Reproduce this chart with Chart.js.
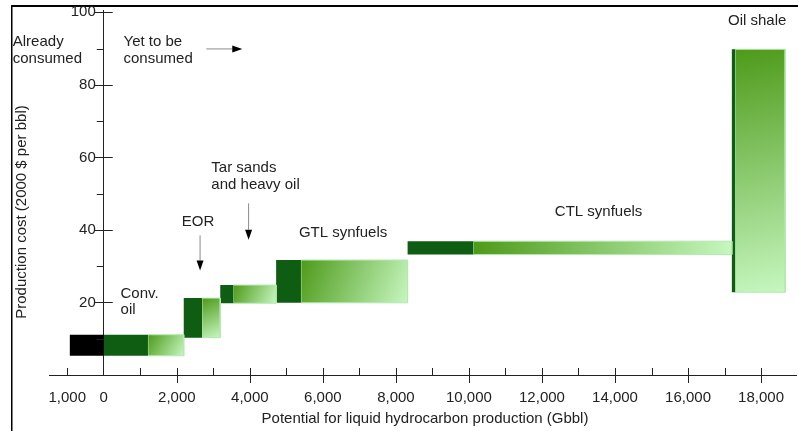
<!DOCTYPE html>
<html><head><meta charset="utf-8">
<style>html,body{margin:0;padding:0;background:#fff}#wrap{width:798px;height:431px;position:relative}</style>
<script src="https://cdn.jsdelivr.net/npm/chart.js@4.4.0/dist/chart.umd.min.js"></script>
</head><body><div id="wrap"><canvas id="c" width="798" height="431"></canvas></div>
<script>
// ---- data (Gbbl on x, 2000 $ per bbl on y) ----
const resources = ['Already consumed', 'Conv. oil', 'EOR', 'Tar sands and heavy oil', 'GTL synfuels', 'CTL synfuels', 'Oil shale'];
const volumeStart = [-930, 0, 2190, 3190, 4720, 8320, 17200];
const volumeCheapEnd = [0, 1210, 2690, 3550, 5400, 10120, 17290];
const volumeEnd = [0, 2190, 3190, 4720, 8320, 17200, 18660];
const costLow = [5.3, 5.3, 10.3, 19.8, 19.9, 33.2, 22.8];
const costHigh = [11.1, 11.1, 21.2, 24.8, 31.7, 36.9, 89.8];
const xTickValues = [-1000, 0, 1000, 2000, 3000, 4000, 5000, 6000, 7000, 8000, 9000, 10000, 11000, 12000, 13000, 14000, 15000, 16000, 17000, 18000];
const yTickValues = [10, 20, 30, 40, 50, 60, 70, 80, 90, 100];
const yTickLabels = ['', '20', '', '40', '', '60', '', '80', '', '100'];

const FONT = '"Liberation Sans", Arial, Helvetica, sans-serif';
const TXT = '#222';

function gradFill(ctx) {
  const chart = ctx.chart;
  const area = chart.chartArea;
  if (!area || !chart.scales.x) return '#7cc05a';
  const r = ctx.dataset.rect;
  const sx = chart.scales.x, sy = chart.scales.y;
  const g = chart.ctx.createLinearGradient(
    sx.getPixelForValue(r.x0), sy.getPixelForValue(r.hi),
    sx.getPixelForValue(r.x1), sy.getPixelForValue(r.lo));
  g.addColorStop(0, '#4e9a1a');
  g.addColorStop(1, '#c6f7c0');
  return g;
}
function makeRect(label, x0, x1, lo, hi, color, grad) {
  return {
    label, rect: {x0, x1, lo, hi},
    data: [{x: x0, y: lo}, {x: x0, y: hi}, {x: x1, y: hi}, {x: x1, y: lo}, {x: x0, y: lo}],
    fill: 'shape', pointRadius: 0, pointHoverRadius: 0, tension: 0,
    borderWidth: grad ? 1 : 0, borderColor: grad ? '#b6e8b0' : color,
    backgroundColor: grad ? gradFill : color
  };
}
const datasets = [];
resources.forEach((name, i) => {
  datasets.push(makeRect(name, volumeStart[i], volumeCheapEnd[i], costLow[i], costHigh[i], i === 0 ? '#000000' : '#0f5d13', false));
  if (volumeEnd[i] > volumeCheapEnd[i]) {
    datasets.push(makeRect(name, volumeCheapEnd[i], volumeEnd[i], costLow[i], costHigh[i], null, true));
  }
});

// ---- annotations (placed in data units) ----
const notes = [
  {lines: ['Already', 'consumed'], x: -2492, y: 91.8, align: 'left'},
  {lines: ['Yet to be', 'consumed'], x: 541, y: 91.8, align: 'left'},
  {lines: ['Oil shale'], x: 17893, y: 97.6, align: 'center'},
  {lines: ['CTL synfuels'], x: 13550, y: 45.1, align: 'center'},
  {lines: ['GTL synfuels'], x: 6554, y: 39.3, align: 'center'},
  {lines: ['EOR'], x: 2580, y: 42.3, align: 'center'},
  {lines: ['Tar sands', 'and heavy oil'], x: 2946, y: 57.0, align: 'left'},
  {lines: ['Conv.', 'oil'], x: 459, y: 22.4, align: 'left'}
];
const arrows = [
  {x0: 2810, y0: 89.9, x1: 3793, y1: 89.9},
  {x0: 2637, y0: 38.5, x1: 2637, y1: 28.8},
  {x0: 3966, y0: 47.3, x1: 3966, y1: 37.3}
];

const framePlugin = {
  id: 'frame',
  beforeDraw(chart) {
    const c = chart.ctx;
    c.save();
    c.fillStyle = '#fff';
    c.fillRect(0, 0, chart.width, chart.height);
    c.strokeStyle = '#000';
    c.lineWidth = 2;
    c.beginPath(); c.moveTo(11, 6); c.lineTo(chart.width, 6); c.stroke();
    c.lineWidth = 1.5;
    c.beginPath(); c.moveTo(11.75, 5); c.lineTo(11.75, chart.height); c.stroke();
    c.restore();
  },
  afterDraw(chart) {
    const c = chart.ctx, sx = chart.scales.x, sy = chart.scales.y;
    const axisY = sy.getPixelForValue(0);
    const axisX = sx.getPixelForValue(0);
    c.save();
    c.strokeStyle = '#222';
    c.lineWidth = 1;
    c.beginPath();
    xTickValues.forEach(v => {
      if (v === 0) return;
      const px = Math.round(sx.getPixelForValue(v)) + 0.5;
      const major = v > 0 && v % 2000 === 0;
      c.moveTo(px, axisY - 7);
      c.lineTo(px, major ? axisY + 8 : axisY);
    });
    yTickValues.forEach(v => {
      const py = Math.round(sy.getPixelForValue(v)) + 0.5;
      const major = v % 20 === 0;
      c.moveTo(axisX - (major ? 9 : 7), py);
      c.lineTo(major ? axisX + 9 : axisX, py);
    });
    c.stroke();

    c.fillStyle = TXT;
    c.font = '15px ' + FONT;
    c.textBaseline = 'middle';
    // y tick labels (left of the axis that crosses at x = 0)
    c.textAlign = 'right';
    yTickValues.forEach((v, k) => {
      if (yTickLabels[k]) c.fillText(yTickLabels[k], axisX - 8, sy.getPixelForValue(v));
    });
    c.textAlign = 'center';
    // x axis title
    c.fillText('Potential for liquid hydrocarbon production (Gbbl)', 425, 419);
    // y axis title
    c.save();
    c.translate(22, 212);
    c.rotate(-Math.PI / 2);
    c.fillText('Production cost (2000 $ per bbl)', 0, 0);
    c.restore();

    // notes
    notes.forEach(n => {
      const px = sx.getPixelForValue(n.x), py = sy.getPixelForValue(n.y);
      c.textAlign = n.align;
      n.lines.forEach((t, k) => c.fillText(t, px, py + k * 16.5));
    });
    // arrows
    arrows.forEach(a => {
      const x0 = sx.getPixelForValue(a.x0), y0 = sy.getPixelForValue(a.y0);
      const x1 = sx.getPixelForValue(a.x1), y1 = sy.getPixelForValue(a.y1);
      const ang = Math.atan2(y1 - y0, x1 - x0);
      const L = 10, W = 3.5;
      const bx = x1 - L * Math.cos(ang), by = y1 - L * Math.sin(ang);
      c.strokeStyle = '#8a8a8a';
      c.lineWidth = 1;
      c.beginPath(); c.moveTo(x0, y0); c.lineTo(bx, by); c.stroke();
      c.fillStyle = '#000';
      c.beginPath();
      c.moveTo(x1, y1);
      c.lineTo(bx - W * Math.sin(ang), by + W * Math.cos(ang));
      c.lineTo(bx + W * Math.sin(ang), by - W * Math.cos(ang));
      c.closePath(); c.fill();
      c.fillStyle = TXT;
    });
    c.restore();
  }
};

new Chart(document.getElementById('c'), {
  type: 'line',
  data: {datasets},
  options: {
    responsive: false,
    animation: false,
    events: [],
    layout: {padding: {left: 49, right: 0, top: 10.5, bottom: 10}},
    plugins: {legend: {display: false}, tooltip: {enabled: false}},
    scales: {
      x: {
        type: 'linear', min: -1500, max: 18960,
        afterBuildTicks: s => { s.ticks = xTickValues.map(v => ({value: v})); },
        grid: {display: false, drawTicks: false},
        border: {display: true, color: '#222', width: 1},
        ticks: {
          font: {family: FONT, size: 15}, color: TXT, padding: 14, autoSkip: false, maxRotation: 0,
          callback: v => v === -1000 ? '1,000' : (v % 2000 === 0 ? v.toLocaleString('en-US') : '')
        }
      },
      y: {
        type: 'linear', position: {x: 0}, min: 0, max: 100.5,
        afterBuildTicks: s => { s.ticks = yTickValues.map(v => ({value: v})); },
        grid: {display: false, drawTicks: false},
        border: {display: true, color: '#222', width: 1},
        ticks: {display: false}
      }
    }
  },
  plugins: [framePlugin]
});
</script>
</body></html>
